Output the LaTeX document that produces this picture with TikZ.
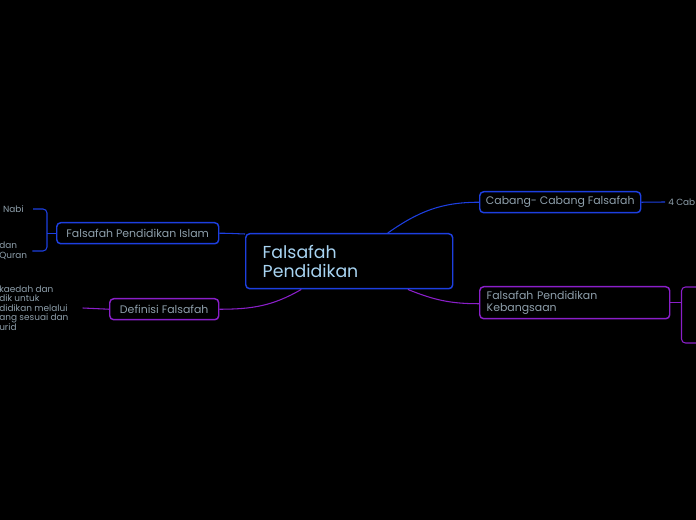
\documentclass[tikz,border=0pt]{standalone}
\usepackage{fontspec}
\setmainfont{Poppins}
\definecolor{bluebd}{HTML}{1D3FE0}
\definecolor{purplebd}{HTML}{8A1FC9}
\definecolor{txtgrey}{HTML}{8FA0AC}
\definecolor{txtroot}{HTML}{A8D4F2}

\begin{document}
\begin{tikzpicture}[x=0.75pt,y=-0.75pt,
  topic/.style={draw, rounded corners=3pt, line width=1.1pt, text=txtgrey,
    font=\fontsize{8.2}{9}\selectfont, inner sep=0pt, anchor=north west,
    minimum height=15.75pt},
  leaf/.style={text=txtgrey, font=\fontsize{6.7}{7.1}\selectfont, inner sep=0pt, align=left},
  link/.style={line width=0.8pt}]
\fill[black] (0,0) rectangle (696,520);
\useasboundingbox (0,0) rectangle (696,520);
\clip (0,0) rectangle (696,520);

% main topic
\node[topic, draw=bluebd, text=txtroot, font=\fontsize{13}{14.5}\selectfont,
  minimum width=155.25pt, minimum height=41.25pt, inner xsep=12.75pt,
  text width=129.75pt, align=left] (root) at (245,233) {Falsafah\\Pendidikan};

% subtopics
\node[topic, draw=bluebd, minimum width=120.75pt] (cabang) at (479,191) {Cabang- Cabang Falsafah};
\node[topic, draw=purplebd, minimum width=142.5pt, minimum height=24pt, inner xsep=5.25pt,
  text width=132pt, align=left, font=\fontsize{8.2}{9}\selectfont] (kebangsaan) at (479,286)
  {Falsafah Pendidikan\\Kebangsaan};
\node[topic, draw=bluebd, minimum width=121.5pt] (islam) at (56,222) {Falsafah Pendidikan Islam};
\node[topic, draw=purplebd, minimum width=81.75pt] (definisi) at (109,298) {Definisi Falsafah};

% leaves (cut by the page edge)
\node[leaf, anchor=west] (cab4) at (668,202) {4 Cab};
\node[leaf, anchor=east] (nabi) at (24,209) {Nabi};
\node[leaf, anchor=west] (quran) at (-1,251) {dan\\Quran};
\node[leaf, anchor=west] (defleaf) at (-1,308)
  {kaedah dan\\dik untuk\\didikan melalui\\ang sesuai dan\\urid};

% main links
\draw[link, bluebd] ([xshift=28.9pt]root.north) to[out=35, in=180] (cabang.west);
\draw[link, purplebd] ([xshift=44pt]root.south) to[out=-22, in=180] ([yshift=-0.75pt]kebangsaan.west);
\draw[link, bluebd] ([yshift=-0.75pt]root.north west) to[out=178, in=0] (islam.east);
\draw[link, purplebd] ([xshift=-36pt]root.south) to[out=-150, in=0] (definisi.east);

% leaf links
\draw[link, bluebd] (cabang.east) -- ([xshift=-2.25pt]cab4.west);
\coordinate (islj) at ([xshift=-6.75pt]islam.west);
\draw[link, bluebd] (islam.west) -- (islj);
\draw[link, bluebd, rounded corners=3pt] ([xshift=6.75pt]nabi.east) -| (islj) |- ([xshift=3.75pt]quran.east);
\draw[link, purplebd] (definisi.west) -- ([xshift=10.5pt]defleaf.east);
\coordinate (kebj) at ([xshift=8.25pt]kebangsaan.east);
\draw[link, purplebd] (kebangsaan.east) -- (kebj);
\draw[link, purplebd, rounded corners=3pt] (710,287) -| (kebj) |- (710,343);
\end{tikzpicture}
\end{document}
